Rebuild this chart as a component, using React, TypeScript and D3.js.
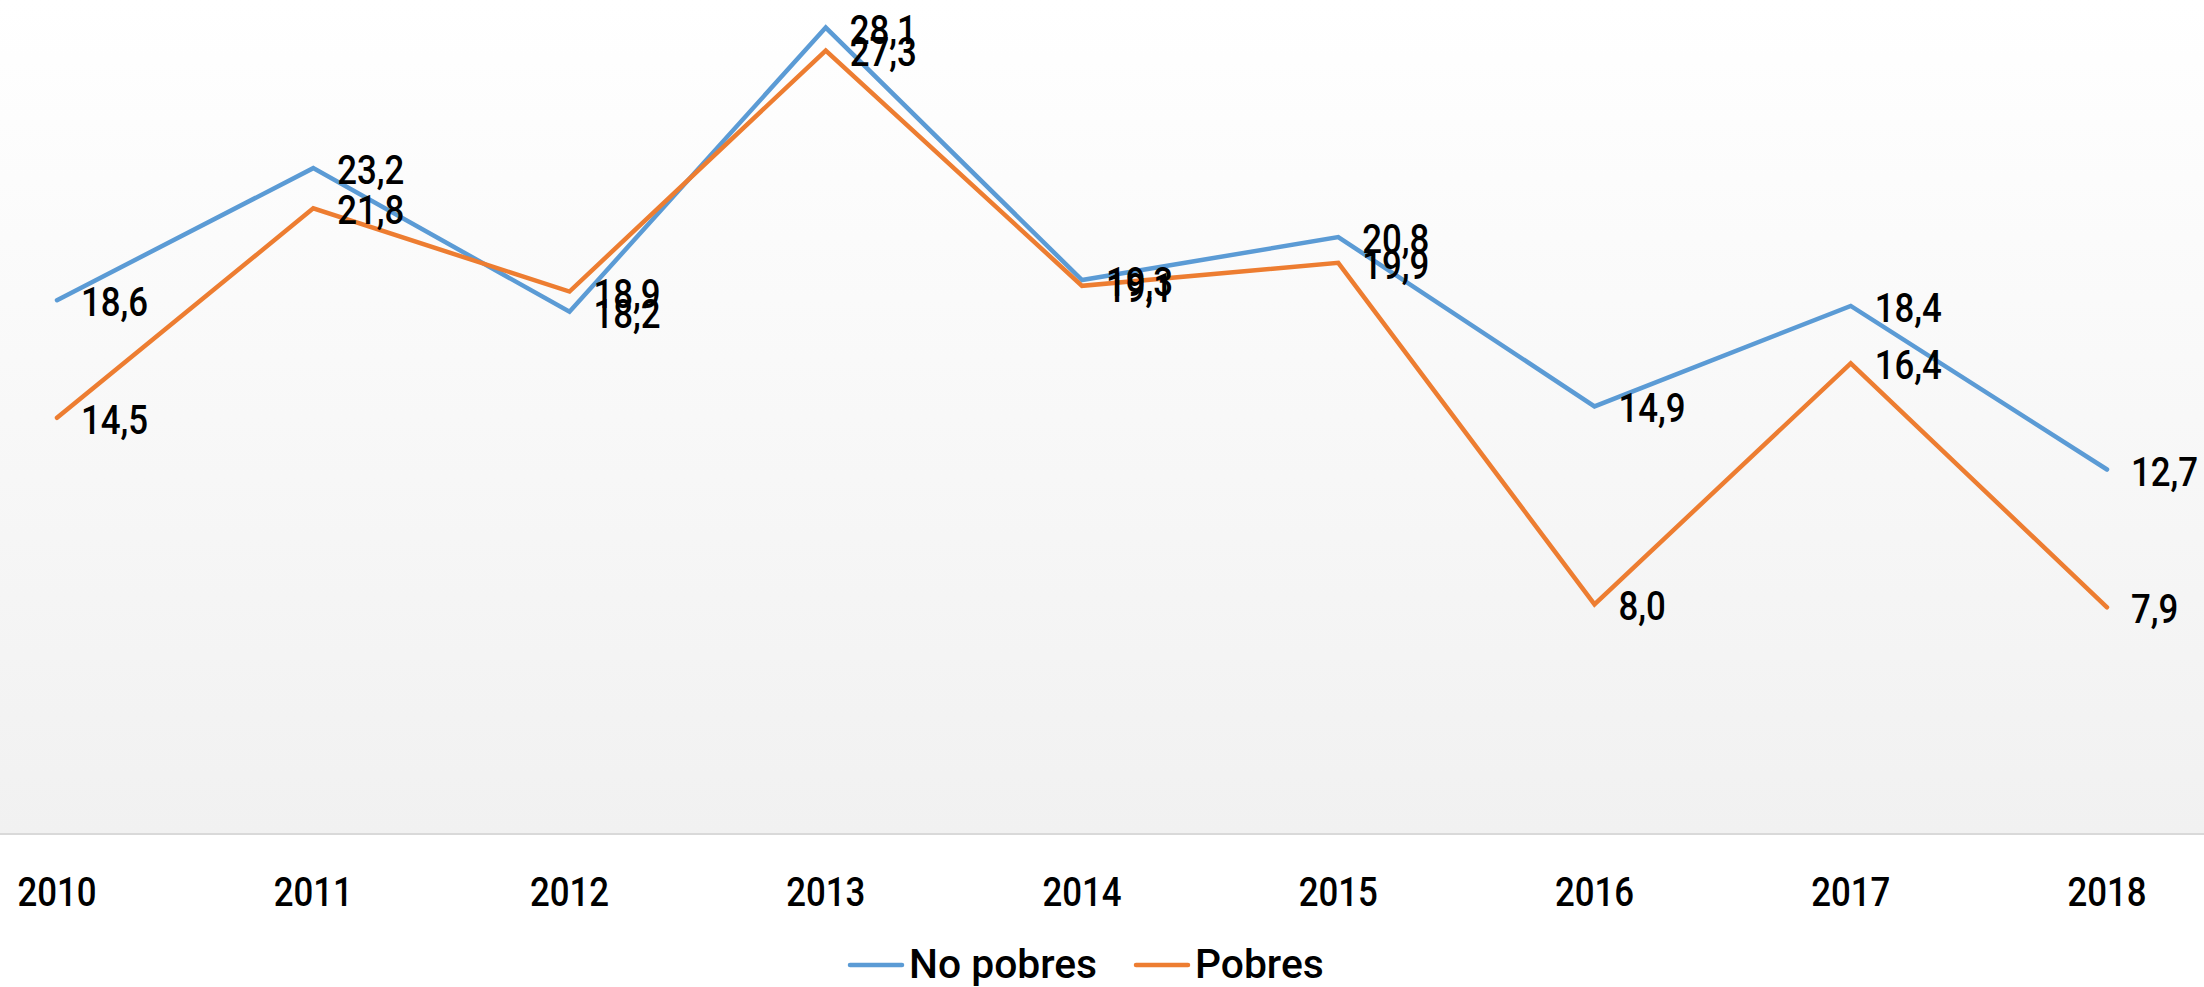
import React from "react";
import * as d3 from "d3";

const years = ["2010", "2011", "2012", "2013", "2014", "2015", "2016", "2017", "2018"];
const noPobres = [18.6, 23.2, 18.2, 28.1, 19.3, 20.8, 14.9, 18.4, 12.7];
const pobres = [14.5, 21.8, 18.9, 27.3, 19.1, 19.9, 8.0, 16.4, 7.9];
const seriesNames = ["No pobres", "Pobres"];
const seriesColors = ["#5B9BD5", "#ED7D31"];

const W = 2204;
const H = 987;
const FONT = "Roboto, 'Noto Sans', sans-serif";
const FS = 40;
const DIGIT_SX = 0.87;
const LEGEND_SX = 1.02;

export default function App() {
  const x = d3.scalePoint<string>().domain(years).range([57, 2107]);
  const axisY = 834;
  const y = d3.scaleLinear().domain([0, 30]).range([axisY, axisY - 30 * 28.7]);
  const fmt = (v: number) => d3.format(".1f")(v).replace(".", ",");
  const line = d3
    .line<number>()
    .x((_, i) => x(years[i]) as number)
    .y((v) => y(v));
  const series = [noPobres, pobres];

  const T = (props: { x: number; y: number; sx: number; anchor?: string; children: React.ReactNode }) => (
    <text
      transform={`translate(${props.x},${props.y}) scale(${props.sx},1)`}
      fontSize={FS}
      fontWeight={500}
      textAnchor={props.anchor || "start"}
      fill="#000"
    >
      {props.children}
    </text>
  );

  return (
    <svg
      width={W}
      height={H}
      style={{ position: "absolute", left: 0, top: 0, background: "#ffffff" }}
      fontFamily={FONT}
    >
      <defs>
        <linearGradient id="plotBg" x1="0" y1="0" x2="0" y2="1">
          <stop offset="0" stopColor="#ffffff" />
          <stop offset="1" stopColor="#f1f1f1" />
        </linearGradient>
      </defs>
      <rect x={0} y={0} width={W} height={axisY} fill="url(#plotBg)" />
      <line x1={0} x2={W} y1={axisY} y2={axisY} stroke="#d9d9d9" strokeWidth={2} />

      {series.map((s, si) => (
        <path
          key={"l" + si}
          d={line(s) as string}
          fill="none"
          stroke={seriesColors[si]}
          strokeWidth={4.5}
          strokeLinejoin="miter"
          strokeLinecap="round"
        />
      ))}

      {series.map((s, si) =>
        s.map((v, i) => (
          <T key={"t" + si + "-" + i} x={(x(years[i]) as number) + 24} y={y(v) + 16} sx={DIGIT_SX}>
            {fmt(v)}
          </T>
        ))
      )}

      {years.map((yr) => (
        <T key={yr} x={x(yr) as number} y={906} sx={DIGIT_SX} anchor="middle">
          {yr}
        </T>
      ))}

      <g>
        <line x1={850} x2={902} y1={965} y2={965} stroke={seriesColors[0]} strokeWidth={4.5} strokeLinecap="round" />
        <T x={909} y={978} sx={LEGEND_SX}>{seriesNames[0]}</T>
        <line x1={1136} x2={1188} y1={965} y2={965} stroke={seriesColors[1]} strokeWidth={4.5} strokeLinecap="round" />
        <T x={1195} y={978} sx={LEGEND_SX}>{seriesNames[1]}</T>
      </g>
    </svg>
  );
}
